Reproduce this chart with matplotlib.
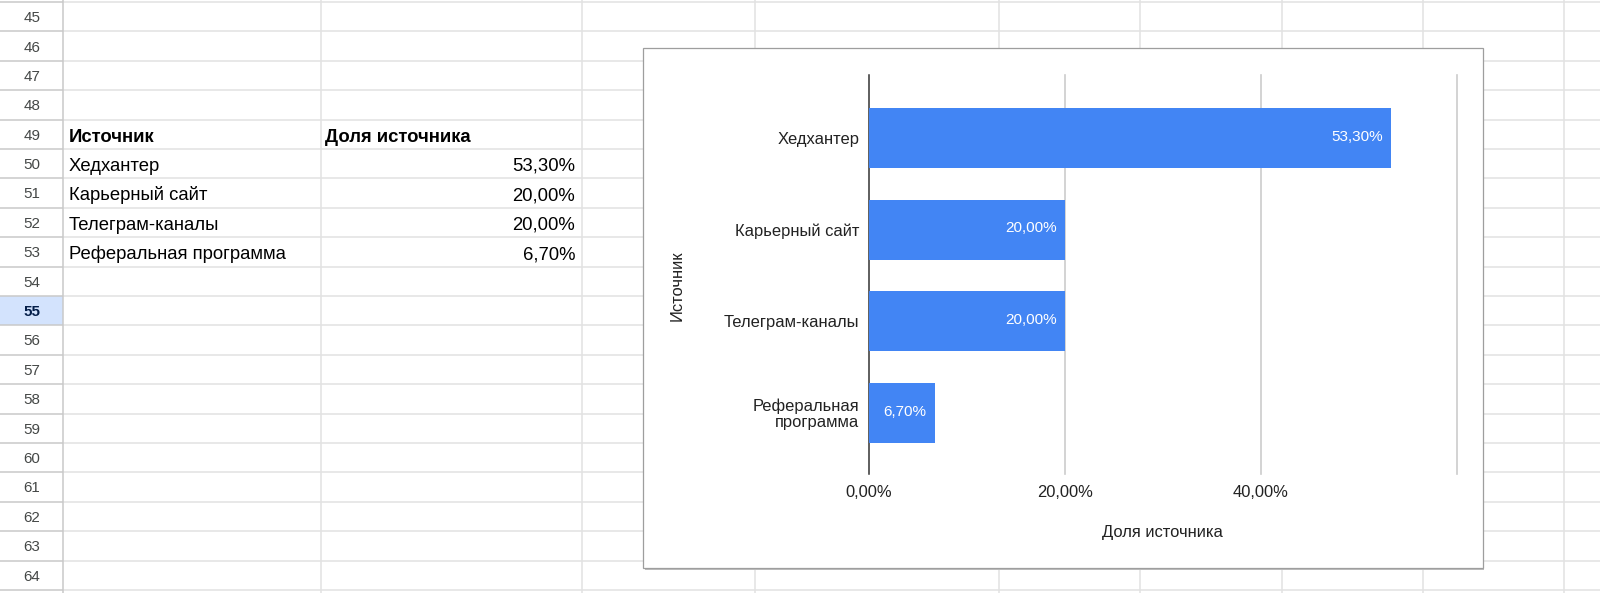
import matplotlib
matplotlib.use('Agg')
import matplotlib.pyplot as plt
from matplotlib.patches import Rectangle
from matplotlib.transforms import ScaledTranslation

plt.rcParams['font.family'] = ['Liberation Sans', 'DejaVu Sans']

# ---------------- data ----------------
categories = ['Хедхантер', 'Карьерный сайт', 'Телеграм-каналы', 'Реферальная программа']
chart_labels = ['Хедхантер', 'Карьерный сайт', 'Телеграм-каналы', 'Реферальная\nпрограмма']
shares = [0.533, 0.200, 0.200, 0.067]
header_source = 'Источник'
header_share = 'Доля источника'
x_axis_title = 'Доля источника'
y_axis_title = 'Источник'
x_ticks = [0.0, 0.2, 0.4, 0.6]
x_tick_labels = ['0,00%', '20,00%', '40,00%', '']
row_numbers = list(range(45, 65))
table_header_row = 49
selected_row = 55


def pct(v):
    return f"{v * 100:.2f}%".replace('.', ',')


# ---------------- figure ----------------
W, H = 1600, 593
fig = plt.figure(figsize=(W / 100, H / 100), dpi=100)
fig.patch.set_facecolor('white')
bg = fig.add_axes([0, 0, 1, 1], zorder=0)
bg.set_xlim(0, W)
bg.set_ylim(H, 0)
bg.axis('off')

ROW_H = 29.4
TOP = 2.0
HDR_W = 63.3
col_lines = [320.7, 581.7, 755, 999.3, 1140, 1281.7, 1423, 1564]
GRID = '#e2e2e2'
HGRID = '#c9c9c9'
CELL_FS = 13.3
NUM_FS = 10.9

# selected row header highlight
k_sel = row_numbers.index(selected_row)
bg.add_patch(Rectangle((0, TOP + k_sel * ROW_H), HDR_W, ROW_H,
                       facecolor='#d3e3fd', edgecolor='none', zorder=1))

for k in range(len(row_numbers) + 1):
    y = TOP + k * ROW_H
    bg.plot([HDR_W, W], [y, y], color=GRID, lw=1.1, zorder=2, solid_capstyle='butt')
    bg.plot([0, HDR_W], [y, y], color=HGRID, lw=1.1, zorder=2, solid_capstyle='butt')
for x in col_lines:
    bg.plot([x, x], [0, H], color=GRID, lw=1.1, zorder=2, solid_capstyle='butt')
bg.plot([HDR_W, HDR_W], [0, H], color=HGRID, lw=1.1, zorder=3, solid_capstyle='butt')

# row numbers
for k, r in enumerate(row_numbers):
    yc = TOP + (k + 0.5) * ROW_H
    sel = (r == selected_row)
    bg.text(HDR_W / 2, yc + 5.4, str(r), ha='center', va='baseline',
            fontsize=NUM_FS, color='#041e49' if sel else '#444746',
            fontweight='bold' if sel else 'normal', zorder=4)

# table
k_hdr = row_numbers.index(table_header_row)
ybase = TOP + (k_hdr + 1) * ROW_H - 7.5
bg.text(69, ybase, header_source, ha='left', va='baseline', fontsize=CELL_FS,
        fontweight='bold', color='black', zorder=4)
bg.text(325, ybase, header_share, ha='left', va='baseline', fontsize=CELL_FS,
        fontweight='bold', color='black', zorder=4)
for i, (cat, v) in enumerate(zip(categories, shares)):
    ybase = TOP + (k_hdr + 2 + i) * ROW_H - 7.5
    bg.text(69, ybase, cat, ha='left', va='baseline', fontsize=CELL_FS,
            color='black', zorder=4)
    bg.text(575.3, ybase, pct(v), ha='right', va='baseline', fontsize=CELL_FS,
            color='black', zorder=4)

# chart box with shadow
bx0, by0, bx1, by1 = 643, 48.3, 1482.7, 568.3
bg.add_patch(Rectangle((bx0 + 1.5, by0 + 1.5), bx1 - bx0, by1 - by0,
                       facecolor='#bdbdbd', edgecolor='none', zorder=5))
bg.add_patch(Rectangle((bx0, by0), bx1 - bx0, by1 - by0,
                       facecolor='white', edgecolor='#9e9e9e', lw=0.9, zorder=6))

LABEL_FS = 11.9
TXT = '#222222'
bg.text(1162, 532.5, x_axis_title, ha='center', va='center', fontsize=LABEL_FS,
        color=TXT, zorder=7)
bg.text(676.7, 286, y_axis_title, ha='center', va='center', rotation=90,
        fontsize=LABEL_FS, color=TXT, zorder=7)

# ---------------- chart ----------------
cx0, cx1 = 869, 1457
cy0, cy1 = 75, 474
ax = fig.add_axes([cx0 / W, 1 - cy1 / H, (cx1 - cx0) / W, (cy1 - cy0) / H], zorder=2)
ax.patch.set_visible(False)

ypos = list(range(len(categories)))
ax.barh(ypos, shares, height=0.653, color='#4285f4', zorder=3)
ax.set_xlim(0, 0.6)
ax.set_ylim(3.66, -0.682)

for t in x_ticks[1:]:
    ax.axvline(t, color='#cccccc', lw=1.2, zorder=1, clip_on=False)
ax.axvline(0, color='#333333', lw=1.1, zorder=2, clip_on=False)

ax.set_xticks(x_ticks, x_tick_labels)
ax.set_yticks(ypos, chart_labels)
ax.tick_params(axis='both', length=0, labelsize=LABEL_FS, colors=TXT)
ax.tick_params(axis='x', pad=8.0)
ax.tick_params(axis='y', pad=7.0)
for lbl in ax.get_yticklabels():
    lbl.set_linespacing(1.1)
    if '\n' in lbl.get_text():
        lbl.set_transform(lbl.get_transform() + ScaledTranslation(0, 1.5 / 100, fig.dpi_scale_trans))
for s in ax.spines.values():
    s.set_visible(False)

for y, v in zip(ypos, shares):
    ax.annotate(pct(v), xy=(v, y), xytext=(-5.8, 0.8), textcoords='offset points',
                ha='right', va='center', color='white', fontsize=11, zorder=4)

fig.savefig('out.png', dpi=100, facecolor='white')
